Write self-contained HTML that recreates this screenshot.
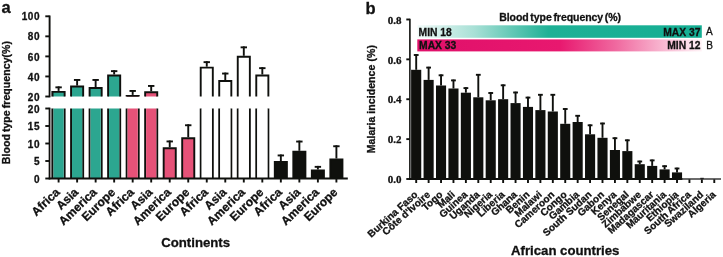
<!DOCTYPE html>
<html><head><meta charset="utf-8"><style>
html,body{margin:0;padding:0;background:#fff;width:723px;height:257px;overflow:hidden}
svg{display:block;will-change:transform;filter:blur(0.4px)}
text{font-family:"Liberation Sans",sans-serif;font-weight:bold;fill:#111;stroke:#111;stroke-width:0.3px}
.lab{font-size:16.5px}
.tk{font-size:10px;letter-spacing:0.6px}
.tkb{font-size:11px;font-family:"Liberation Serif",serif}
.xl{font-size:12px}
.xlb{font-size:10px}
.ttl{font-size:13.2px}
.yt{font-size:10.5px;word-spacing:-1px;letter-spacing:0.07px}
.yt2{font-size:10.5px;letter-spacing:0.07px}
.gt{font-size:10.5px;word-spacing:-1.2px;letter-spacing:-0.05px}
.gl{font-size:10.3px}
.gl2{font-size:10px;font-weight:normal}
.ln{stroke:#0f100d;stroke-width:1.9;fill-opacity:1}
line.ln{fill:none}
</style></head><body>
<svg width="723" height="257" viewBox="0 0 723 257">
<text x="1.4" y="13.2" class="lab">a</text>
<line x1="49.6" y1="15.5" x2="49.6" y2="97.29999999999998" class="ln"/>
<line x1="45.3" y1="16.30" x2="49.6" y2="16.30" class="ln"/>
<text x="40.2" y="20.40" class="tk" text-anchor="end">100</text>
<line x1="45.3" y1="36.35" x2="49.6" y2="36.35" class="ln"/>
<text x="40.2" y="40.45" class="tk" text-anchor="end">80</text>
<line x1="45.3" y1="56.40" x2="49.6" y2="56.40" class="ln"/>
<text x="40.2" y="60.50" class="tk" text-anchor="end">60</text>
<line x1="45.3" y1="76.45" x2="49.6" y2="76.45" class="ln"/>
<text x="40.2" y="80.55" class="tk" text-anchor="end">40</text>
<line x1="45.3" y1="96.50" x2="49.6" y2="96.50" class="ln"/>
<text x="40.2" y="100.60" class="tk" text-anchor="end">20</text>
<line x1="49.6" y1="107.7" x2="49.6" y2="179.3" class="ln"/>
<line x1="45.3" y1="108.50" x2="49.6" y2="108.50" class="ln"/>
<text x="40.2" y="112.60" class="tk" text-anchor="end">20</text>
<line x1="45.3" y1="126.00" x2="49.6" y2="126.00" class="ln"/>
<text x="40.2" y="130.10" class="tk" text-anchor="end">15</text>
<line x1="45.3" y1="143.50" x2="49.6" y2="143.50" class="ln"/>
<text x="40.2" y="147.60" class="tk" text-anchor="end">10</text>
<line x1="45.3" y1="161.00" x2="49.6" y2="161.00" class="ln"/>
<text x="40.2" y="165.10" class="tk" text-anchor="end">5</text>
<line x1="45.3" y1="178.50" x2="49.6" y2="178.50" class="ln"/>
<text x="40.2" y="182.60" class="tk" text-anchor="end">0</text>
<rect x="50.50" y="90.9" width="1.7" height="5.60" fill="#a9a9a9"/>
<rect x="50.50" y="108.50" width="1.7" height="70.00" fill="#a9a9a9"/>
<line x1="58.60" y1="178.5" x2="58.60" y2="182.5" class="ln"/>
<path d="M52.55,96.50 V91.85 H64.65 V96.50" fill="#2ca690" class="ln"/>
<path d="M52.55,178.50 V108.50 M64.65,108.50 V178.50" class="ln"/>
<rect x="53.50" y="108.50" width="10.20" height="70.00" fill="#2ca690"/>
<line x1="58.60" y1="90.90" x2="58.60" y2="86.40" class="ln"/>
<line x1="55.40" y1="87.35" x2="61.80" y2="87.35" class="ln"/>
<line x1="77.12" y1="178.5" x2="77.12" y2="182.5" class="ln"/>
<path d="M71.07,96.50 V86.55 H83.17 V96.50" fill="#2ca690" class="ln"/>
<path d="M71.07,178.50 V108.50 M83.17,108.50 V178.50" class="ln"/>
<rect x="72.02" y="108.50" width="10.20" height="70.00" fill="#2ca690"/>
<line x1="77.12" y1="85.60" x2="77.12" y2="79.00" class="ln"/>
<line x1="73.92" y1="79.95" x2="80.32" y2="79.95" class="ln"/>
<line x1="95.64" y1="178.5" x2="95.64" y2="182.5" class="ln"/>
<path d="M89.59,96.50 V88.05 H101.69 V96.50" fill="#2ca690" class="ln"/>
<path d="M89.59,178.50 V108.50 M101.69,108.50 V178.50" class="ln"/>
<rect x="90.54" y="108.50" width="10.20" height="70.00" fill="#2ca690"/>
<line x1="95.64" y1="87.10" x2="95.64" y2="79.00" class="ln"/>
<line x1="92.44" y1="79.95" x2="98.84" y2="79.95" class="ln"/>
<line x1="114.16" y1="178.5" x2="114.16" y2="182.5" class="ln"/>
<path d="M108.11,96.50 V75.45 H120.21 V96.50" fill="#2ca690" class="ln"/>
<path d="M108.11,178.50 V108.50 M120.21,108.50 V178.50" class="ln"/>
<rect x="109.06" y="108.50" width="10.20" height="70.00" fill="#2ca690"/>
<line x1="114.16" y1="74.50" x2="114.16" y2="70.20" class="ln"/>
<line x1="110.96" y1="71.15" x2="117.36" y2="71.15" class="ln"/>
<line x1="132.68" y1="178.5" x2="132.68" y2="182.5" class="ln"/>
<path d="M126.63,96.50 V95.85 H138.73 V96.50" fill="#e65278" class="ln"/>
<path d="M126.63,178.50 V108.50 M138.73,108.50 V178.50" class="ln"/>
<rect x="127.58" y="108.50" width="10.20" height="70.00" fill="#e65278"/>
<line x1="132.68" y1="94.90" x2="132.68" y2="90.00" class="ln"/>
<line x1="129.48" y1="90.95" x2="135.88" y2="90.95" class="ln"/>
<line x1="151.20" y1="178.5" x2="151.20" y2="182.5" class="ln"/>
<path d="M145.15,96.50 V92.25 H157.25 V96.50" fill="#e65278" class="ln"/>
<path d="M145.15,178.50 V108.50 M157.25,108.50 V178.50" class="ln"/>
<rect x="146.10" y="108.50" width="10.20" height="70.00" fill="#e65278"/>
<line x1="151.20" y1="91.30" x2="151.20" y2="85.00" class="ln"/>
<line x1="148.00" y1="85.95" x2="154.40" y2="85.95" class="ln"/>
<line x1="169.72" y1="178.5" x2="169.72" y2="182.5" class="ln"/>
<path d="M163.67,178.50 V148.25 H175.77 V178.50" fill="#e65278" class="ln"/>
<line x1="169.72" y1="147.30" x2="169.72" y2="140.50" class="ln"/>
<line x1="166.52" y1="141.45" x2="172.92" y2="141.45" class="ln"/>
<line x1="188.24" y1="178.5" x2="188.24" y2="182.5" class="ln"/>
<path d="M182.19,178.50 V138.25 H194.29 V178.50" fill="#e65278" class="ln"/>
<line x1="188.24" y1="137.30" x2="188.24" y2="124.30" class="ln"/>
<line x1="185.04" y1="125.25" x2="191.44" y2="125.25" class="ln"/>
<line x1="206.76" y1="178.5" x2="206.76" y2="182.5" class="ln"/>
<path d="M200.71,96.50 V67.65 H212.81 V96.50" fill="#fff" class="ln"/>
<path d="M200.71,178.50 V108.50 M212.81,108.50 V178.50" class="ln"/>
<rect x="201.66" y="108.50" width="10.20" height="70.00" fill="#fff"/>
<line x1="206.76" y1="66.70" x2="206.76" y2="61.20" class="ln"/>
<line x1="203.56" y1="62.15" x2="209.96" y2="62.15" class="ln"/>
<line x1="225.28" y1="178.5" x2="225.28" y2="182.5" class="ln"/>
<path d="M219.23,96.50 V81.05 H231.33 V96.50" fill="#fff" class="ln"/>
<path d="M219.23,178.50 V108.50 M231.33,108.50 V178.50" class="ln"/>
<rect x="220.18" y="108.50" width="10.20" height="70.00" fill="#fff"/>
<line x1="225.28" y1="80.10" x2="225.28" y2="72.60" class="ln"/>
<line x1="222.08" y1="73.55" x2="228.48" y2="73.55" class="ln"/>
<line x1="243.80" y1="178.5" x2="243.80" y2="182.5" class="ln"/>
<path d="M237.75,96.50 V56.75 H249.85 V96.50" fill="#fff" class="ln"/>
<path d="M237.75,178.50 V108.50 M249.85,108.50 V178.50" class="ln"/>
<rect x="238.70" y="108.50" width="10.20" height="70.00" fill="#fff"/>
<line x1="243.80" y1="55.80" x2="243.80" y2="46.40" class="ln"/>
<line x1="240.60" y1="47.35" x2="247.00" y2="47.35" class="ln"/>
<line x1="262.32" y1="178.5" x2="262.32" y2="182.5" class="ln"/>
<path d="M256.27,96.50 V75.45 H268.37 V96.50" fill="#fff" class="ln"/>
<path d="M256.27,178.50 V108.50 M268.37,108.50 V178.50" class="ln"/>
<rect x="257.22" y="108.50" width="10.20" height="70.00" fill="#fff"/>
<line x1="262.32" y1="74.50" x2="262.32" y2="67.20" class="ln"/>
<line x1="259.12" y1="68.15" x2="265.52" y2="68.15" class="ln"/>
<line x1="280.84" y1="178.5" x2="280.84" y2="182.5" class="ln"/>
<path d="M274.79,178.50 V162.05 H286.89 V178.50" fill="#0f100d" class="ln"/>
<line x1="280.84" y1="161.10" x2="280.84" y2="154.50" class="ln"/>
<line x1="277.64" y1="155.45" x2="284.04" y2="155.45" class="ln"/>
<line x1="299.36" y1="178.5" x2="299.36" y2="182.5" class="ln"/>
<path d="M293.31,178.50 V151.75 H305.41 V178.50" fill="#0f100d" class="ln"/>
<line x1="299.36" y1="150.80" x2="299.36" y2="140.60" class="ln"/>
<line x1="296.16" y1="141.55" x2="302.56" y2="141.55" class="ln"/>
<line x1="317.88" y1="178.5" x2="317.88" y2="182.5" class="ln"/>
<path d="M311.83,178.50 V170.45 H323.93 V178.50" fill="#0f100d" class="ln"/>
<line x1="317.88" y1="169.50" x2="317.88" y2="165.90" class="ln"/>
<line x1="314.68" y1="166.85" x2="321.08" y2="166.85" class="ln"/>
<line x1="336.40" y1="178.5" x2="336.40" y2="182.5" class="ln"/>
<path d="M330.35,178.50 V159.45 H342.45 V178.50" fill="#0f100d" class="ln"/>
<line x1="336.40" y1="158.50" x2="336.40" y2="145.30" class="ln"/>
<line x1="333.20" y1="146.25" x2="339.60" y2="146.25" class="ln"/>
<line x1="48.800000000000004" y1="178.5" x2="347.8" y2="178.5" class="ln"/>
<text transform="translate(60.60,193.00) rotate(-44)" class="xl" text-anchor="end">Africa</text>
<text transform="translate(79.12,193.00) rotate(-44)" class="xl" text-anchor="end">Asia</text>
<text transform="translate(97.64,193.00) rotate(-44)" class="xl" text-anchor="end">America</text>
<text transform="translate(116.16,193.00) rotate(-44)" class="xl" text-anchor="end">Europe</text>
<text transform="translate(134.68,193.00) rotate(-44)" class="xl" text-anchor="end">Africa</text>
<text transform="translate(153.20,193.00) rotate(-44)" class="xl" text-anchor="end">Asia</text>
<text transform="translate(171.72,193.00) rotate(-44)" class="xl" text-anchor="end">America</text>
<text transform="translate(190.24,193.00) rotate(-44)" class="xl" text-anchor="end">Europe</text>
<text transform="translate(208.76,193.00) rotate(-44)" class="xl" text-anchor="end">Africa</text>
<text transform="translate(227.28,193.00) rotate(-44)" class="xl" text-anchor="end">Asia</text>
<text transform="translate(245.80,193.00) rotate(-44)" class="xl" text-anchor="end">America</text>
<text transform="translate(264.32,193.00) rotate(-44)" class="xl" text-anchor="end">Europe</text>
<text transform="translate(282.84,193.00) rotate(-44)" class="xl" text-anchor="end">Africa</text>
<text transform="translate(301.36,193.00) rotate(-44)" class="xl" text-anchor="end">Asia</text>
<text transform="translate(319.88,193.00) rotate(-44)" class="xl" text-anchor="end">America</text>
<text transform="translate(338.40,193.00) rotate(-44)" class="xl" text-anchor="end">Europe</text>
<text x="161.2" y="247.1" class="ttl">Continents</text>
<text transform="translate(9.5,164.2) rotate(-90)" class="yt">Blood type frequency(%)</text>
<text x="365.5" y="13.6" class="lab">b</text>
<line x1="409.90000000000003" y1="18.67999999999999" x2="409.90000000000003" y2="179.8" class="ln" style="stroke-width:1.6px"/>
<line x1="406.3" y1="19.48" x2="409.8" y2="19.48" class="ln"/>
<text x="401.4" y="23.68" class="tkb" text-anchor="end">0.8</text>
<line x1="406.3" y1="59.36" x2="409.8" y2="59.36" class="ln"/>
<text x="401.4" y="63.56" class="tkb" text-anchor="end">0.6</text>
<line x1="406.3" y1="99.24" x2="409.8" y2="99.24" class="ln"/>
<text x="401.4" y="103.44" class="tkb" text-anchor="end">0.4</text>
<line x1="406.3" y1="139.12" x2="409.8" y2="139.12" class="ln"/>
<text x="401.4" y="143.32" class="tkb" text-anchor="end">0.2</text>
<line x1="406.3" y1="179.00" x2="409.8" y2="179.00" class="ln"/>
<text x="401.4" y="183.20" class="tkb" text-anchor="end">0.0</text>
<rect x="410.70" y="69.8" width="0.95" height="109.20" fill="#999"/>
<line x1="416.20" y1="179.0" x2="416.20" y2="183.0" class="ln"/>
<rect x="411.15" y="69.80" width="10.1" height="109.20" fill="#0f100d"/>
<line x1="416.20" y1="69.80" x2="416.20" y2="54.20" class="ln"/>
<line x1="413.80" y1="55.00" x2="418.60" y2="55.00" class="ln"/>
<text transform="translate(418.40,195.50) rotate(-42)" class="xlb" text-anchor="end">Burkina Faso</text>
<line x1="428.62" y1="179.0" x2="428.62" y2="183.0" class="ln"/>
<rect x="423.57" y="79.90" width="10.1" height="99.10" fill="#0f100d"/>
<line x1="428.62" y1="79.90" x2="428.62" y2="66.80" class="ln"/>
<line x1="426.22" y1="67.60" x2="431.02" y2="67.60" class="ln"/>
<text transform="translate(430.82,195.50) rotate(-42)" class="xlb" text-anchor="end">Côte d'Ivoire</text>
<line x1="441.04" y1="179.0" x2="441.04" y2="183.0" class="ln"/>
<rect x="435.99" y="85.50" width="10.1" height="93.50" fill="#0f100d"/>
<line x1="441.04" y1="85.50" x2="441.04" y2="74.50" class="ln"/>
<line x1="438.64" y1="75.30" x2="443.44" y2="75.30" class="ln"/>
<text transform="translate(443.24,195.50) rotate(-42)" class="xlb" text-anchor="end">Togo</text>
<line x1="453.46" y1="179.0" x2="453.46" y2="183.0" class="ln"/>
<rect x="448.41" y="88.50" width="10.1" height="90.50" fill="#0f100d"/>
<line x1="453.46" y1="88.50" x2="453.46" y2="79.60" class="ln"/>
<line x1="451.06" y1="80.40" x2="455.86" y2="80.40" class="ln"/>
<text transform="translate(455.66,195.50) rotate(-42)" class="xlb" text-anchor="end">Mali</text>
<line x1="465.88" y1="179.0" x2="465.88" y2="183.0" class="ln"/>
<rect x="460.83" y="92.70" width="10.1" height="86.30" fill="#0f100d"/>
<line x1="465.88" y1="92.70" x2="465.88" y2="87.30" class="ln"/>
<line x1="463.48" y1="88.10" x2="468.28" y2="88.10" class="ln"/>
<text transform="translate(468.08,195.50) rotate(-42)" class="xlb" text-anchor="end">Guinea</text>
<line x1="478.30" y1="179.0" x2="478.30" y2="183.0" class="ln"/>
<rect x="473.25" y="97.30" width="10.1" height="81.70" fill="#0f100d"/>
<line x1="478.30" y1="97.30" x2="478.30" y2="74.00" class="ln"/>
<line x1="475.90" y1="74.80" x2="480.70" y2="74.80" class="ln"/>
<text transform="translate(480.50,195.50) rotate(-42)" class="xlb" text-anchor="end">Uganda</text>
<line x1="490.72" y1="179.0" x2="490.72" y2="183.0" class="ln"/>
<rect x="485.67" y="100.30" width="10.1" height="78.70" fill="#0f100d"/>
<line x1="490.72" y1="100.30" x2="490.72" y2="92.20" class="ln"/>
<line x1="488.32" y1="93.00" x2="493.12" y2="93.00" class="ln"/>
<text transform="translate(492.92,195.50) rotate(-42)" class="xlb" text-anchor="end">Nigeria</text>
<line x1="503.14" y1="179.0" x2="503.14" y2="183.0" class="ln"/>
<rect x="498.09" y="99.20" width="10.1" height="79.80" fill="#0f100d"/>
<line x1="503.14" y1="99.20" x2="503.14" y2="84.50" class="ln"/>
<line x1="500.74" y1="85.30" x2="505.54" y2="85.30" class="ln"/>
<text transform="translate(505.34,195.50) rotate(-42)" class="xlb" text-anchor="end">Liberia</text>
<line x1="515.56" y1="179.0" x2="515.56" y2="183.0" class="ln"/>
<rect x="510.51" y="103.10" width="10.1" height="75.90" fill="#0f100d"/>
<line x1="515.56" y1="103.10" x2="515.56" y2="91.70" class="ln"/>
<line x1="513.16" y1="92.50" x2="517.96" y2="92.50" class="ln"/>
<text transform="translate(517.76,195.50) rotate(-42)" class="xlb" text-anchor="end">Ghana</text>
<line x1="527.98" y1="179.0" x2="527.98" y2="183.0" class="ln"/>
<rect x="522.93" y="106.90" width="10.1" height="72.10" fill="#0f100d"/>
<line x1="527.98" y1="106.90" x2="527.98" y2="96.80" class="ln"/>
<line x1="525.58" y1="97.60" x2="530.38" y2="97.60" class="ln"/>
<text transform="translate(530.18,195.50) rotate(-42)" class="xlb" text-anchor="end">Benin</text>
<line x1="540.40" y1="179.0" x2="540.40" y2="183.0" class="ln"/>
<rect x="535.35" y="110.10" width="10.1" height="68.90" fill="#0f100d"/>
<line x1="540.40" y1="110.10" x2="540.40" y2="94.00" class="ln"/>
<line x1="538.00" y1="94.80" x2="542.80" y2="94.80" class="ln"/>
<text transform="translate(542.60,195.50) rotate(-42)" class="xlb" text-anchor="end">Malawi</text>
<line x1="552.82" y1="179.0" x2="552.82" y2="183.0" class="ln"/>
<rect x="547.77" y="111.50" width="10.1" height="67.50" fill="#0f100d"/>
<line x1="552.82" y1="111.50" x2="552.82" y2="94.00" class="ln"/>
<line x1="550.42" y1="94.80" x2="555.22" y2="94.80" class="ln"/>
<text transform="translate(555.02,195.50) rotate(-42)" class="xlb" text-anchor="end">Cameroon</text>
<line x1="565.24" y1="179.0" x2="565.24" y2="183.0" class="ln"/>
<rect x="560.19" y="123.80" width="10.1" height="55.20" fill="#0f100d"/>
<line x1="565.24" y1="123.80" x2="565.24" y2="108.20" class="ln"/>
<line x1="562.84" y1="109.00" x2="567.64" y2="109.00" class="ln"/>
<text transform="translate(567.44,195.50) rotate(-42)" class="xlb" text-anchor="end">Congo</text>
<line x1="577.66" y1="179.0" x2="577.66" y2="183.0" class="ln"/>
<rect x="572.61" y="122.00" width="10.1" height="57.00" fill="#0f100d"/>
<line x1="577.66" y1="122.00" x2="577.66" y2="115.00" class="ln"/>
<line x1="575.26" y1="115.80" x2="580.06" y2="115.80" class="ln"/>
<text transform="translate(579.86,195.50) rotate(-42)" class="xlb" text-anchor="end">Gambia</text>
<line x1="590.08" y1="179.0" x2="590.08" y2="183.0" class="ln"/>
<rect x="585.03" y="134.30" width="10.1" height="44.70" fill="#0f100d"/>
<line x1="590.08" y1="134.30" x2="590.08" y2="124.50" class="ln"/>
<line x1="587.68" y1="125.30" x2="592.48" y2="125.30" class="ln"/>
<text transform="translate(592.28,195.50) rotate(-42)" class="xlb" text-anchor="end">South Sudan</text>
<line x1="602.50" y1="179.0" x2="602.50" y2="183.0" class="ln"/>
<rect x="597.45" y="137.80" width="10.1" height="41.20" fill="#0f100d"/>
<line x1="602.50" y1="137.80" x2="602.50" y2="122.70" class="ln"/>
<line x1="600.10" y1="123.50" x2="604.90" y2="123.50" class="ln"/>
<text transform="translate(604.70,195.50) rotate(-42)" class="xlb" text-anchor="end">Gabon</text>
<line x1="614.92" y1="179.0" x2="614.92" y2="183.0" class="ln"/>
<rect x="609.87" y="150.00" width="10.1" height="29.00" fill="#0f100d"/>
<line x1="614.92" y1="150.00" x2="614.92" y2="137.40" class="ln"/>
<line x1="612.52" y1="138.20" x2="617.32" y2="138.20" class="ln"/>
<text transform="translate(617.12,195.50) rotate(-42)" class="xlb" text-anchor="end">Kenya</text>
<line x1="627.34" y1="179.0" x2="627.34" y2="183.0" class="ln"/>
<rect x="622.29" y="151.10" width="10.1" height="27.90" fill="#0f100d"/>
<line x1="627.34" y1="151.10" x2="627.34" y2="139.50" class="ln"/>
<line x1="624.94" y1="140.30" x2="629.74" y2="140.30" class="ln"/>
<text transform="translate(629.54,195.50) rotate(-42)" class="xlb" text-anchor="end">Senegal</text>
<line x1="639.76" y1="179.0" x2="639.76" y2="183.0" class="ln"/>
<rect x="634.71" y="164.20" width="10.1" height="14.80" fill="#0f100d"/>
<line x1="639.76" y1="164.20" x2="639.76" y2="160.70" class="ln"/>
<line x1="637.36" y1="161.50" x2="642.16" y2="161.50" class="ln"/>
<text transform="translate(641.96,195.50) rotate(-42)" class="xlb" text-anchor="end">Zimbabwe</text>
<line x1="652.18" y1="179.0" x2="652.18" y2="183.0" class="ln"/>
<rect x="647.13" y="165.90" width="10.1" height="13.10" fill="#0f100d"/>
<line x1="652.18" y1="165.90" x2="652.18" y2="159.60" class="ln"/>
<line x1="649.78" y1="160.40" x2="654.58" y2="160.40" class="ln"/>
<text transform="translate(654.38,195.50) rotate(-42)" class="xlb" text-anchor="end">Madagascar</text>
<line x1="664.60" y1="179.0" x2="664.60" y2="183.0" class="ln"/>
<rect x="659.55" y="169.40" width="10.1" height="9.60" fill="#0f100d"/>
<line x1="664.60" y1="169.40" x2="664.60" y2="165.40" class="ln"/>
<line x1="662.20" y1="166.20" x2="667.00" y2="166.20" class="ln"/>
<text transform="translate(666.80,195.50) rotate(-42)" class="xlb" text-anchor="end">Mauritania</text>
<line x1="677.02" y1="179.0" x2="677.02" y2="183.0" class="ln"/>
<rect x="671.97" y="172.40" width="10.1" height="6.60" fill="#0f100d"/>
<line x1="677.02" y1="172.40" x2="677.02" y2="167.70" class="ln"/>
<line x1="674.62" y1="168.50" x2="679.42" y2="168.50" class="ln"/>
<text transform="translate(679.22,195.50) rotate(-42)" class="xlb" text-anchor="end">Ethiopia</text>
<line x1="689.44" y1="179.0" x2="689.44" y2="183.0" class="ln"/>
<text transform="translate(691.64,195.50) rotate(-42)" class="xlb" text-anchor="end">South Africa</text>
<line x1="701.86" y1="179.0" x2="701.86" y2="183.0" class="ln"/>
<text transform="translate(704.06,195.50) rotate(-42)" class="xlb" text-anchor="end">Swaziland</text>
<line x1="714.28" y1="179.0" x2="714.28" y2="183.0" class="ln"/>
<text transform="translate(716.48,195.50) rotate(-42)" class="xlb" text-anchor="end">Algeria</text>
<line x1="409.0" y1="179.0" x2="682.5" y2="179.0" class="ln"/>
<line x1="682" y1="179.0" x2="721" y2="179.0" stroke="#3a3a3a" stroke-width="1.3"/>
<line x1="700.3" y1="178.5" x2="703.8" y2="178.5" stroke="#222" stroke-width="1.4"/>
<text x="511" y="254.9" class="ttl">African countries</text>
<text transform="translate(374.7,153.3) rotate(-90)" class="yt2">Malaria incidence (%)</text>
<defs>
<linearGradient id="gA" x1="0" x2="1" y1="0" y2="0">
<stop offset="0" stop-color="#f0faf8"/><stop offset="0.2" stop-color="#a8e0d6"/><stop offset="0.46" stop-color="#1fb196"/><stop offset="1" stop-color="#14ae93"/>
</linearGradient>
<linearGradient id="gB" x1="0" x2="1" y1="0" y2="0">
<stop offset="0" stop-color="#e0106a"/><stop offset="0.5" stop-color="#e8186f"/><stop offset="0.7" stop-color="#f06aa0"/><stop offset="0.86" stop-color="#f8b6d0"/><stop offset="1" stop-color="#fff3f7"/>
</linearGradient></defs>
<rect x="417.5" y="25.3" width="284.3" height="12.5" fill="url(#gA)"/>
<rect x="417.3" y="39.4" width="284.5" height="12.0" fill="url(#gB)"/>
<text x="499.2" y="21.0" class="gt">Blood type frequency (%)</text>
<text x="418.6" y="35.7" class="gl">MIN 18</text>
<text x="700.4" y="35.5" class="gl" text-anchor="end">MAX 37</text>
<text x="706" y="35.3" class="gl2">A</text>
<text x="419.1" y="49.0" class="gl">MAX 33</text>
<text x="700.4" y="49.0" class="gl" text-anchor="end">MIN 12</text>
<text x="706.3" y="48.9" class="gl2">B</text>
</svg>
</body></html>
